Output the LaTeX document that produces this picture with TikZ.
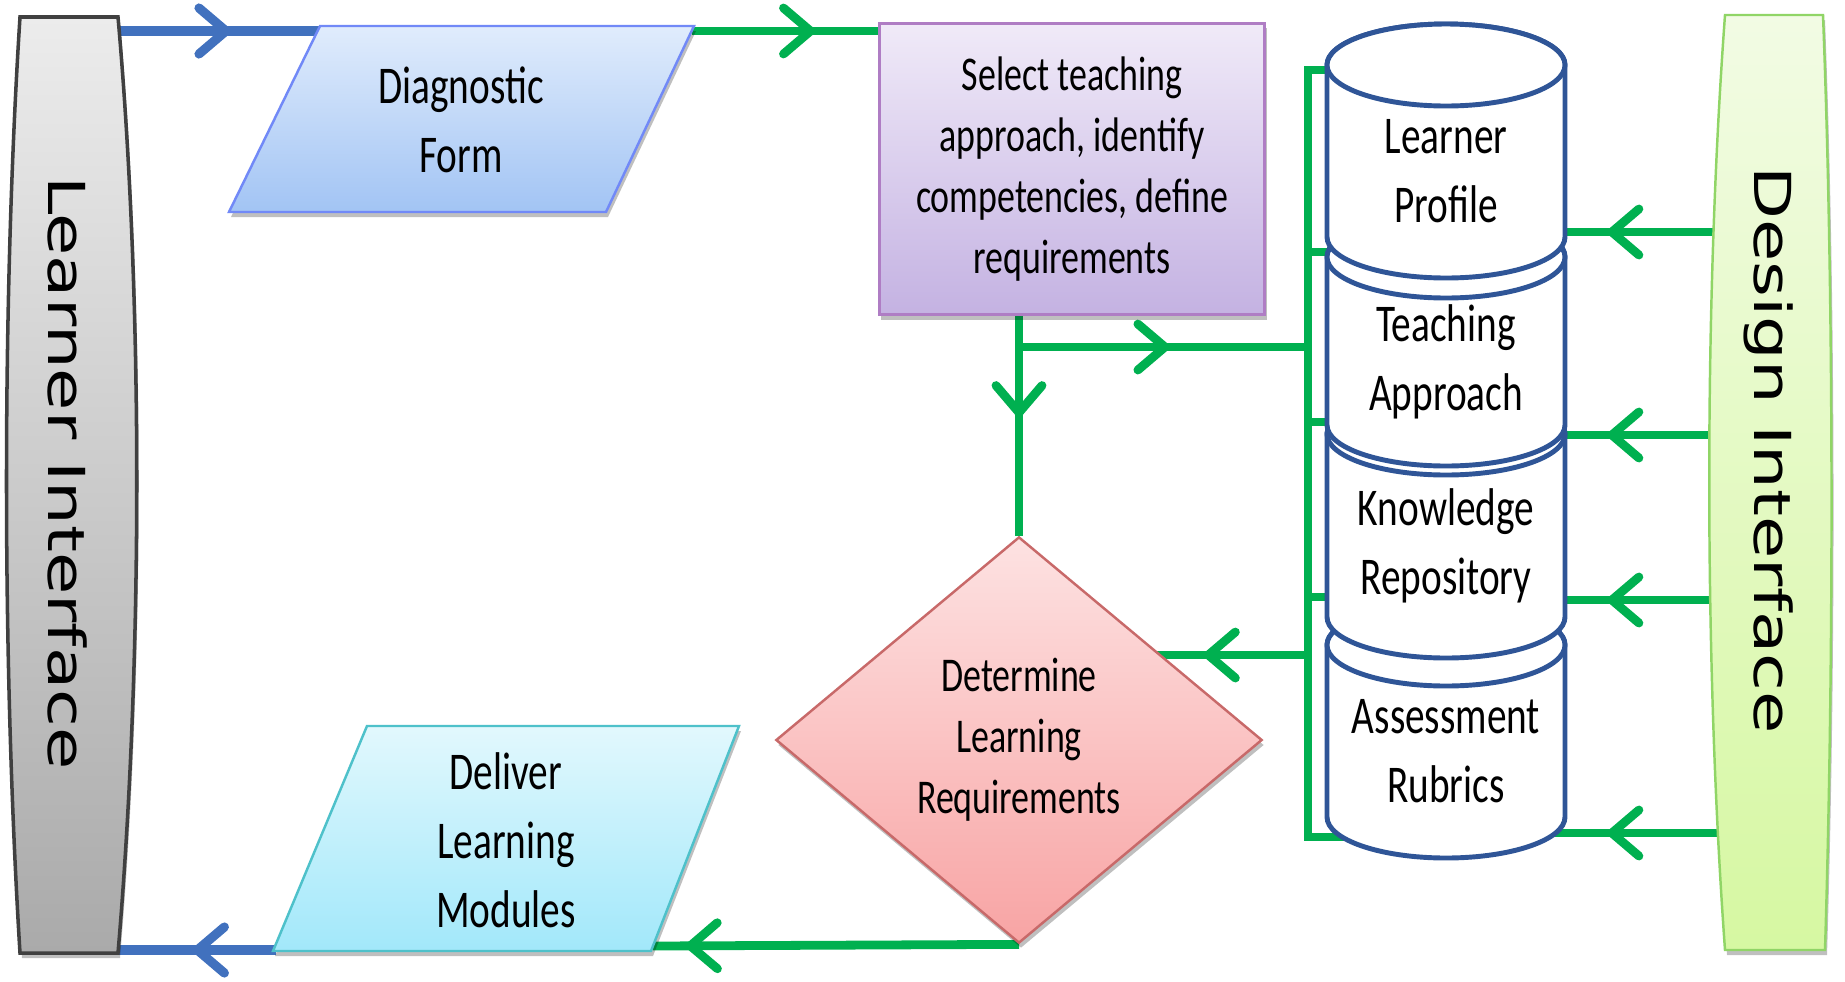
\documentclass[tikz,border=0pt]{standalone}
\usepackage{fontspec}
\newfontfamily\boxfont[FakeStretch=0.74]{Carlito}
\newfontfamily\ifacefont[FakeStretch=1.35]{DejaVu Sans}
\usetikzlibrary{arrows.meta,decorations.markings,shadows,shapes.geometric}
\pgfdeclarelayer{bg}
\pgfsetlayers{bg,main}

\definecolor{flowgreen}{RGB}{0,176,80}
\definecolor{flowblue}{RGB}{65,113,190}
\definecolor{dbblue}{RGB}{47,85,151}
\definecolor{liTop}{RGB}{236,236,236}
\definecolor{liBot}{RGB}{170,170,170}
\definecolor{diTop}{RGB}{242,251,228}
\definecolor{diBot}{RGB}{214,248,162}
\definecolor{diaTop}{RGB}{224,236,252}
\definecolor{diaBot}{RGB}{162,196,244}
\definecolor{selTop}{RGB}{240,234,248}
\definecolor{selBot}{RGB}{196,178,226}
\definecolor{detTop}{RGB}{253,226,226}
\definecolor{detBot}{RGB}{248,164,164}
\definecolor{delTop}{RGB}{226,248,253}
\definecolor{delBot}{RGB}{162,232,250}

\tikzset{
  flow/.style={draw=flowgreen, line width=2.5pt},
  blueflow/.style={draw=flowblue, line width=2.6pt},
  midarrow/.style={postaction={decorate}, decoration={markings,
      mark=at position #1 with {\arrow{Straight Barb[length=0.27cm, width=0.46cm, round]}}}},
  boxshadow/.style={drop shadow={shadow xshift=0.02cm, shadow yshift=-0.05cm, opacity=0.25, fill=black}},
  txta/.style={align=center, font=\boxfont\fontsize{15.1}{19.6}\selectfont},
  txtb/.style={align=center, font=\boxfont\fontsize{13.8}{17.4}\selectfont},
  iface/.style={font=\ifacefont\fontsize{14.5}{17}\selectfont, rotate=-90},
  liface/.style={draw=black!75, line width=1pt, top color=liTop, bottom color=liBot, boxshadow},
  diface/.style={draw=green!45!olive!60, line width=0.7pt, top color=diTop, bottom color=diBot, boxshadow},
  diabox/.style={draw=diaBot!70!blue, line width=0.7pt, top color=diaTop, bottom color=diaBot, boxshadow},
  delbox/.style={draw=delBot!60!cyan!80!black, line width=0.7pt, top color=delTop, bottom color=delBot, boxshadow},
  selbox/.style={txtb, draw=selBot!70!violet, line width=0.7pt, top color=selTop, bottom color=selBot,
      minimum width=3.85cm, minimum height=2.91cm, inner sep=0pt, boxshadow},
  detbox/.style={txtb, diamond, aspect=1.2, draw=detBot!80!red!80!black, line width=0.7pt,
      top color=detTop, bottom color=detBot, minimum width=4.86cm, minimum height=4.06cm, inner sep=0pt, boxshadow},
  dbcyl/.style={draw=dbblue, line width=1.4pt, fill=white},
}

\begin{document}
\begin{tikzpicture}[x=0.01cm, y=-0.01cm]
\useasboundingbox (0,0) rectangle (1845,981);

% interfaces
\path[liface] (20,17) -- (118,17) .. controls (143,300) and (143,660) .. (118,953)
   -- (20,953) .. controls (2,660) and (2,300) .. cycle;
\node[iface] (li) at (68,473) {Learner Interface};
\path[diface] (1725,15) -- (1823,15) .. controls (1834,300) and (1834,660) .. (1825,950)
   -- (1725,950) .. controls (1704,660) and (1704,300) .. cycle;
\node[iface] (di) at (1769,450) {Design Interface};

% process steps
\path[diabox] (229,212) -- (320,26) -- (694,26) -- (606,212) -- cycle;
\node[txta] (dia) at (461,120) {Diagnostic\\Form};
\coordinate (dia-in) at (322,31);
\coordinate (dia-out) at (692,31);
\node[selbox] (sel) at (1072,169) {Select teaching\\approach, identify\\competencies, define\\requirements};
\node[detbox] (det) at (1019,740) {Determine\\Learning\\Requirements};
\path[delbox] (273,951) -- (367,726) -- (739,726) -- (651,951) -- cycle;
\node[txta] (del) at (506,840) {Deliver\\Learning\\Modules};
\coordinate (del-in) at (653,946);
\coordinate (del-out) at (276,950);

% databases, lowest first
\foreach \cyl/\ya/\yb/\txt in {ar/645/817/{Assessment\\Rubrics}, kr/434/617/{Knowledge\\Repository},
    ta/257/425/{Teaching\\Approach}, lp/65/237/{Learner\\Profile}} {
  \path[dbcyl] (1327,\ya) -- (1327,\yb) arc (180:0:119 and 41) -- (1565,\ya) arc (0:-180:119 and 41) -- cycle;
  \draw[dbcyl] (1446,\ya) ellipse (119 and 41);
  \node[txta] (\cyl) at (1446,{(\ya+41+\yb)/2}) {\txt};
}

% connectors
\begin{pgfonlayer}{bg}
\draw[blueflow, midarrow=0.64] (li |- dia-in) -- (dia-in);
\draw[flow, midarrow=0.66] (dia-out) -- (sel.west |- dia-out);
\draw[flow, midarrow=0.46] (sel.south -| det.north) -- (det.north);
\coordinate (fork) at (det.north |- 0,347);
\coordinate (bus-top) at (1308,70);
\coordinate (bus-bot) at (1308,837);
\draw[flow, midarrow=0.52] (fork) -- (bus-top |- fork);
\draw[flow] (lp |- bus-top) -- (bus-top) -- (bus-bot) -- (ar |- bus-bot);
\foreach \y in {252,422,597}
  \draw[flow] (bus-top |- 0,\y) -- (lp |- 0,\y);
\draw[flow, midarrow=0.36] (bus-top |- 0,655) -- (det |- 0,655);
\draw[flow, midarrow=0.91] (det.south) -- (del-in);
\draw[blueflow, midarrow=0.4] (del-out) -- (li |- del-out);
\foreach \cyl/\y in {lp/232, ta/435, kr/600, ar/833}
  \draw[flow, midarrow=0.5] (di |- 0,\y) -- (\cyl |- 0,\y);
\end{pgfonlayer}
\end{tikzpicture}
\end{document}
